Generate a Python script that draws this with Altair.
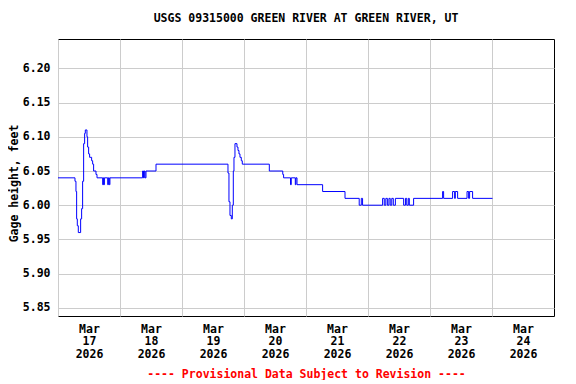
import altair as alt
import pandas as pd

TITLE = "USGS 09315000 GREEN RIVER AT GREEN RIVER, UT"
FOOTER = "---- Provisional Data Subject to Revision ----"
Y_LABEL = "Gage height, feet"

start = "2026-03-17"
# hours after Mar 17 00:00 at which gage height changes
hours = [0.00, 6.57, 6.95, 7.21, 7.47, 7.86, 8.76, 9.15, 9.53, 9.92, 10.31, 10.57,
         11.21, 11.47, 11.86, 12.24, 13.02, 13.41, 13.79, 14.70, 15.10,
         17.30, 17.55, 17.75, 17.95, 19.25, 19.50, 19.85, 20.10,
         32.75, 33.10, 33.40, 33.70, 34.06, 37.94,
         65.80, 66.18, 66.57, 67.08, 67.47, 67.86, 68.12, 68.50, 69.28, 69.67,
         70.05, 70.44, 70.95, 71.34,
         81.80, 87.00, 87.33, 90.00, 90.30, 91.86, 92.10, 92.52,
         102.43, 111.10, 116.60, 117.40, 117.90,
         125.65, 126.30, 126.90, 127.50, 128.10, 128.60, 129.20, 129.80, 130.60,
         133.80, 134.50, 135.00, 135.60, 136.00, 137.65,
         148.88, 149.27, 152.75, 153.53, 153.80, 154.69, 158.33, 158.95, 159.33,
         160.49, 168.20]
gage = [6.04, 6.035, 6.02, 5.98, 5.97, 5.96, 5.98, 5.995, 6.035, 6.09, 6.105, 6.11,
        6.10, 6.085, 6.075, 6.07, 6.065, 6.06, 6.05, 6.045, 6.04,
        6.03, 6.04, 6.03, 6.04, 6.03, 6.04, 6.03, 6.04,
        6.05, 6.04, 6.05, 6.04, 6.05, 6.06,
        6.047, 6.005, 5.985, 5.98, 6.00, 6.05, 6.07, 6.09, 6.085, 6.08,
        6.075, 6.07, 6.065, 6.06,
        6.05, 6.045, 6.04, 6.03, 6.04, 6.03, 6.04, 6.03,
        6.02, 6.01, 6.00, 6.01, 6.00,
        6.01, 6.00, 6.01, 6.00, 6.01, 6.00, 6.01, 6.00, 6.01,
        6.00, 6.01, 6.00, 6.01, 6.00, 6.01,
        6.02, 6.01, 6.02, 6.01, 6.02, 6.01, 6.02, 6.01, 6.02,
        6.01, 6.01]

y_ticks = [5.85, 5.90, 5.95, 6.00, 6.05, 6.10, 6.15, 6.20]
y_domain = [5.838, 6.243]
label_days = [17, 18, 19, 20, 21, 22, 23, 24]

t0 = pd.Timestamp(start)
df = pd.DataFrame({
    "time": [t0 + pd.Timedelta(hours=h) for h in hours],
    "gage": gage,
})

FONT = "DejaVu Sans Mono"

chart = alt.Chart(df).mark_line(
    interpolate="step-after", color="#0000ff", strokeWidth=1
).encode(
    x=alt.X(
        "time:T",
        scale=alt.Scale(domain=[alt.DateTime(year=2026, month=3, date=17),
                                alt.DateTime(year=2026, month=3, date=25)]),
        axis=alt.Axis(
            values=[alt.DateTime(year=2026, month=3, date=d) for d in label_days],
            labelExpr="[timeFormat(datum.value, '%b'), timeFormat(datum.value, '%d'), timeFormat(datum.value, '%Y')]",
            labelOffset=31,
            labelPadding=7,
            labelLineHeight=12.8,
            labelFlush=False,
            labelOverlap=False,
            labelBound=False,
            title=FOOTER,
            titleColor="#ff0000",
            titleY=58,
            titleBaseline="middle",
        ),
    ),
    y=alt.Y(
        "gage:Q",
        scale=alt.Scale(domain=y_domain, nice=False, zero=False),
        axis=alt.Axis(
            values=y_ticks,
            format=".2f",
            labelPadding=8,
            title=Y_LABEL,
            titleX=-44,
            titleY=144,
            titleAngle=270,
            titleAlign="center",
            titleBaseline="middle",
        ),
    ),
).properties(
    width=496,
    height=277,
    autosize=alt.AutoSizeParams(type="none"),
    padding={"left": 50, "top": 31, "right": 14, "bottom": 64},
    background="#ffffff",
    title=alt.TitleParams(
        TITLE, font=FONT, fontSize=11.5, fontWeight="bold", anchor="middle",
        offset=15, color="#000000",
    ),
).configure_view(
    stroke="#000000", strokeWidth=1,
).configure_axis(
    labelFont=FONT, labelFontSize=11.5, labelFontWeight="bold", labelColor="#000000",
    titleFont=FONT, titleFontSize=11.5, titleFontWeight="bold", titleColor="#000000",
    grid=True, gridColor="#cccccc", gridWidth=1, gridOpacity=1,
    ticks=False, domain=False,
)

chart.save("out.html", embed_options={"renderer": "svg", "actions": False})
